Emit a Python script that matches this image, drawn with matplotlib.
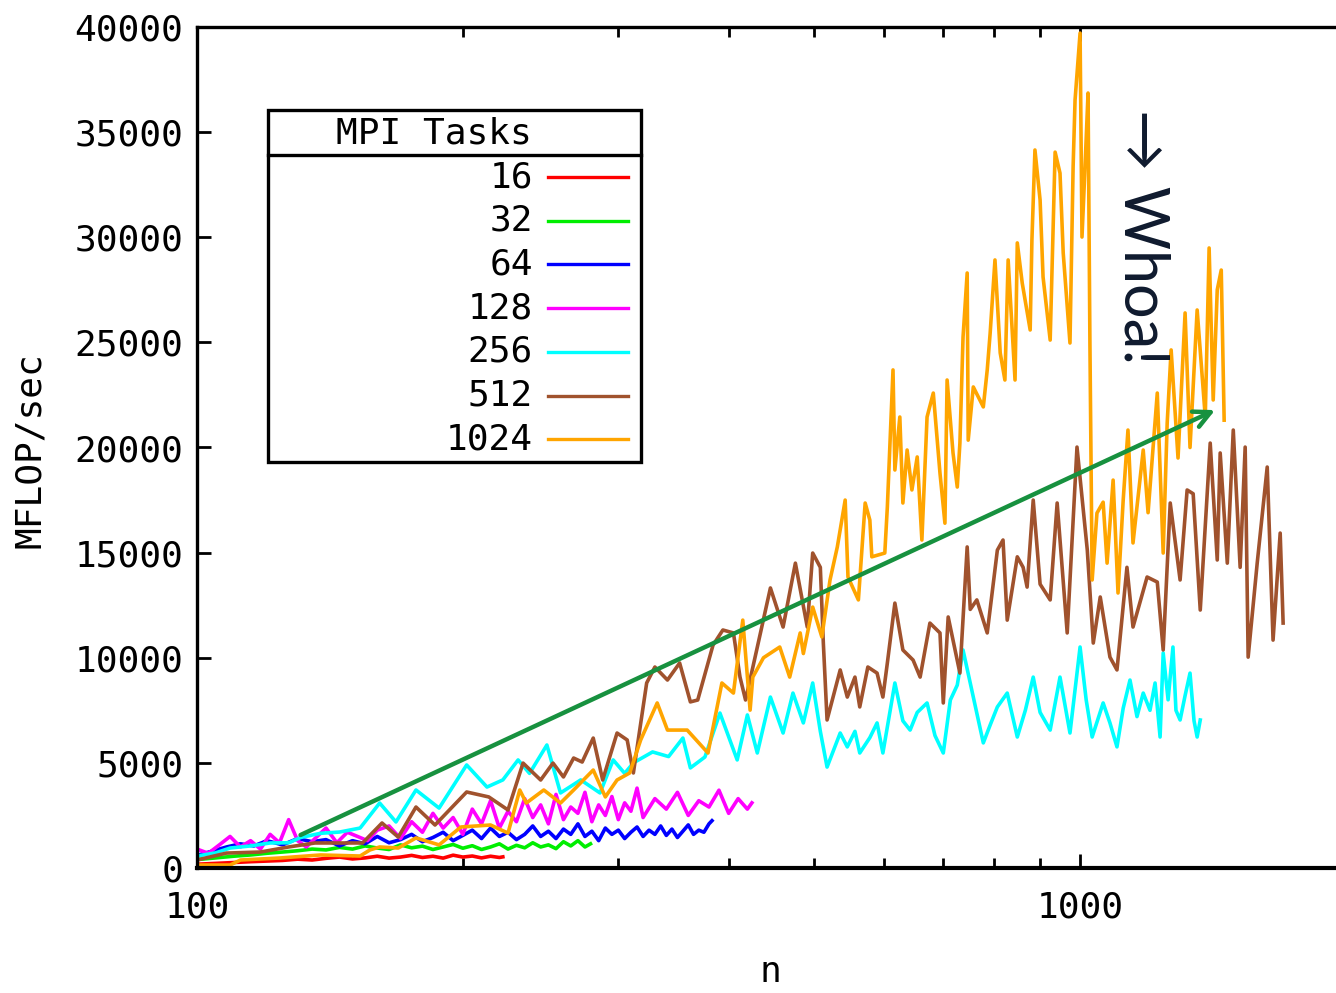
import matplotlib
matplotlib.use("Agg")
import matplotlib.pyplot as plt
from matplotlib.lines import Line2D
from matplotlib.patches import Rectangle
from matplotlib.ticker import FixedLocator, NullFormatter

# -----------------------------
# Data (n vs MFLOP/sec)
# -----------------------------
n_16 = [100, 105, 110, 115, 120, 125, 130, 135, 140, 145, 150, 155, 160, 165, 170,
        175, 180, 185, 190, 195, 200, 205, 210, 215, 220, 222]
mf_16 = [180, 220, 260, 300, 330, 360, 420, 380, 460, 520, 430, 480, 560, 470, 520,
         600, 500, 560, 470, 610, 520, 570, 480, 560, 500, 530]

n_32 = [100, 105, 110, 115, 120, 125, 130, 135, 140, 145, 150, 155, 160, 165, 170,
        175, 180, 185, 190, 195, 200, 205, 210, 215, 220, 225, 230, 235, 240, 245,
        250, 255, 260, 265, 270, 275, 279]
mf_32 = [400, 480, 560, 620, 700, 760, 820, 900, 860, 980, 900, 1050, 950, 880, 1100,
         960, 1040, 880, 1000, 1120, 940, 1060, 880, 1000, 1150, 900, 1080, 960, 1200, 1000,
         1100, 920, 1250, 1050, 1300, 1000, 1150]

n_64 = [100, 104, 108, 112, 116, 120, 125, 130, 135, 140, 145, 150, 155, 160, 165,
        170, 175, 180, 185, 190, 195, 200, 205, 210, 215, 220, 225, 230, 235, 240,
        245, 250, 255, 260, 265, 270, 275, 280, 285, 290, 295, 300, 305, 310, 315,
        320, 325, 330, 335, 340, 345, 350, 355, 360, 365, 370, 375, 380, 383]
mf_64 = [600, 800, 1000, 1150, 1050, 1300, 1100, 1400, 1250, 1350, 1050, 1300, 1150, 1500, 1200,
         1350, 1600, 1250, 1450, 1700, 1300, 1550, 1800, 1400, 1900, 1500, 1700, 1350, 1600, 2000,
         1500, 1750, 1400, 1850, 1600, 2100, 1500, 1750, 1300, 1900, 1600, 1800, 1400, 1700, 1950,
         1500, 1800, 1600, 2000, 1550, 1850, 1450, 1750, 2050, 1600, 1800, 1700, 2100, 2250]

n_128 = [100, 103, 106, 109, 112, 115, 118, 121, 124, 127, 130, 133, 136, 140, 144,
         148, 152, 156, 160, 165, 170, 175, 180, 185, 190, 195, 200, 205, 210, 215,
         220, 225, 230, 235, 240, 245, 250, 255, 260, 265, 270, 275, 280, 285, 290,
         295, 300, 305, 310, 315, 320, 330, 340, 350, 360, 370, 380, 390, 400, 410,
         420, 425]
mf_128 = [900, 700, 1100, 1500, 1000, 1300, 900, 1600, 1200, 2300, 1300, 1000, 1400, 1900, 1200,
          1700, 1500, 1300, 1800, 2000, 1400, 2200, 1700, 2600, 1900, 2400, 1600, 2800, 2100, 3200,
          1900, 2700, 2200, 3300, 2400, 3000, 2100, 3500, 2300, 2900, 2600, 3600, 2200, 3000, 2500,
          3400, 2300, 3100, 2700, 3800, 2400, 3300, 2800, 3600, 2500, 3200, 2900, 3700, 2600, 3300,
          2800, 3100]

n_256 = [100, 105, 109, 115, 121, 127, 131, 138, 145, 153, 161, 168, 177, 188, 202,
         213, 222, 231, 238, 249, 258, 272, 286, 296, 305, 312, 328, 342, 355, 362,
         376, 391, 409, 420, 431, 446, 461, 473, 486, 498, 508, 517, 535, 545, 556,
         563, 578, 589, 598, 617, 630, 642, 654, 671, 685, 700, 713, 726, 737, 757,
         777, 791, 806, 827, 849, 867, 885, 901, 925, 949, 974, 1000, 1016, 1032, 1062,
         1081, 1101, 1119, 1139, 1160, 1179, 1200, 1216, 1232, 1242, 1258, 1274, 1284, 1298, 1315,
         1332, 1346, 1357, 1368]
mf_256 = [570, 720, 950, 1050, 1190, 1200, 1450, 1650, 1710, 1900, 3090, 2190, 3710, 2850, 4900,
          3850, 4190, 5140, 4500, 5850, 3570, 4190, 3570, 5140, 4500, 5000, 5520, 5300, 6180, 4760,
          5280, 7370, 5140, 7280, 5470, 8130, 6420, 8320, 6900, 8800, 6500, 4800, 6420, 5760, 6500,
          5470, 6200, 6900, 5470, 8800, 7000, 6560, 7400, 7850, 6300, 5470, 7990, 8700, 10370, 8130,
          5950, 6800, 7660, 8320, 6230, 7500, 9080, 7400, 6560, 9080, 6420, 10510, 8000, 6230, 7850,
          6900, 5760, 7600, 8940, 7200, 8320, 7500, 8800, 6230, 10225, 8000, 10510, 7500, 7040, 8200,
          9270, 7000, 6230, 7040]

n_512 = [100, 108, 118, 127, 136, 147, 154, 162, 169, 177, 186, 202, 214, 225, 234,
         245, 253, 260, 267, 273, 281, 288, 299, 307, 312, 323, 330, 341, 352, 362,
         369, 384, 394, 405, 412, 418, 431, 446, 461, 476, 491, 498, 508, 512, 517,
         535, 545, 556, 563, 575, 589, 598, 605, 617, 630, 647, 659, 676, 694, 700,
         709, 731, 745, 751, 764, 785, 806, 818, 827, 849, 862, 871, 885, 901, 925,
         942, 967, 992, 1019, 1035, 1054, 1081, 1101, 1130, 1148, 1191, 1223, 1242, 1265, 1298,
         1322, 1343, 1368, 1404, 1430, 1441, 1468, 1491, 1518, 1538, 1550, 1587, 1629, 1654, 1685,
         1698]
mf_512 = [380, 710, 760, 1000, 1190, 1190, 1190, 2140, 1470, 2900, 2045, 3615, 3380, 2760, 4990,
          4185, 4990, 4330, 5230, 5040, 6180, 4185, 6420, 6090, 4520, 8800, 9560, 8940, 9750, 7900,
          7990, 10600, 11320, 11180, 9080, 7990, 10500, 13320, 11460, 14500, 11460, 14980, 14300, 10700, 7040,
          9420, 8130, 9080, 7660, 9560, 9270, 8130, 9750, 12600, 10370, 9890, 9080, 11650, 11180, 7850,
          11940, 9270, 15270, 12300, 12750, 11180, 15120, 15600, 11790, 14800, 14300, 13360, 17500, 13500, 12750,
          17360, 11180, 20020, 15120, 10700, 12890, 10030, 9420, 14300, 11460, 13840, 13600, 10370, 17360, 13700,
          17980, 17800, 12270, 20210, 14650, 19740, 14500, 20830, 14300, 20020, 10030, 14500, 19070, 10840, 15930,
          11650]

n_1024 = [100, 109, 112, 124, 138, 153, 157, 161, 169, 177, 188, 199, 215, 225, 232,
          236, 247, 258, 267, 281, 290, 299, 309, 318, 332, 341, 359, 379, 393, 405,
          415, 423, 426, 438, 457, 469, 482, 486, 498, 510, 521, 531, 542, 546, 561,
          571, 578, 581, 601, 605, 614, 617, 625, 630, 637, 645, 654, 662, 671, 682,
          694, 703, 707, 718, 726, 731, 737, 745, 747, 757, 777, 785, 791, 801, 812,
          822, 829, 844, 849, 860, 878, 882, 889, 901, 908, 925, 937, 949, 957, 974,
          982, 987, 1000, 1005, 1013, 1021, 1026, 1032, 1045, 1062, 1073, 1090, 1104, 1119, 1133,
          1148, 1179, 1194, 1223, 1242, 1255, 1268, 1291, 1315, 1332, 1357, 1386, 1400, 1415, 1430,
          1445, 1456]
mf_1024 = [140, 140, 380, 475, 620, 570, 860, 1000, 950, 1430, 1100, 1950, 2045, 1660, 3710,
           3090, 3710, 3090, 3710, 4660, 3380, 4185, 4520, 6090, 7850, 6560, 6560, 5470, 8800, 8320,
           11790, 7510, 9080, 10000, 10510, 9080, 11180, 10200, 12410, 10990, 13700, 15270, 17500, 13840, 12750,
           17360, 16550, 14800, 14980, 17170, 23690, 18930, 21450, 17360, 19880, 17980, 19550, 15600, 21450, 22590,
           18780, 16400, 23210, 19740, 18120, 20210, 25250, 28300, 20350, 22880, 21930, 23690, 25440, 28920, 24500,
           23210, 28920, 23210, 29730, 27820, 25590, 29870, 34150, 31770, 28110, 25110, 34050, 33050, 29250, 24970,
           33340, 36530, 39710, 30010, 33340, 36860, 24970, 13700, 16880, 17400, 14500, 18450, 13080, 17500, 20830,
           15460, 19880, 16900, 22590, 14980, 21160, 24640, 19500, 26400, 20000, 26540, 21450, 29490, 22260, 27500,
           28440, 21300]

series_n = [n_16, n_32, n_64, n_128, n_256, n_512, n_1024]
series_mf = [mf_16, mf_32, mf_64, mf_128, mf_256, mf_512, mf_1024]
labels = ['16', '32', '64', '128', '256', '512', '1024']
colors = ['#ff0000', '#00ee00', '#0000ff', '#ff00ff', '#00ffff', '#a0522d', '#ffa500']

y_ticks = [0, 5000, 10000, 15000, 20000, 25000, 30000, 35000, 40000]

# -----------------------------
# Figure
# -----------------------------
W, H = 1336, 993
plt.rcParams['font.family'] = 'DejaVu Sans Mono'
fig = plt.figure(figsize=(W / 100, H / 100), dpi=100)
ax = fig.add_axes([197 / W, (H - 868) / H, (W - 197) / W, (868 - 27) / H])

for xs, ys, c in zip(series_n, series_mf, colors):
    ax.plot(xs, ys, color=c, lw=2.6)

ax.set_xscale('log')
ax.set_xlim(100, 1949)
ax.set_ylim(0, 40000)

ax.xaxis.set_major_locator(FixedLocator([100, 1000]))
ax.xaxis.set_minor_locator(FixedLocator([200, 300, 400, 500, 600, 700, 800, 900]))
ax.xaxis.set_minor_formatter(NullFormatter())
ax.set_xticklabels(['100', '1000'])
ax.set_yticks(y_ticks)
ax.set_yticklabels([str(v) for v in y_ticks])

ax.tick_params(axis='both', which='major', direction='in', length=10, width=2,
               labelsize=26, top=True, right=False)
ax.tick_params(axis='x', which='minor', direction='in', length=7, width=2, top=True)
ax.tick_params(axis='x', which='major', pad=16)
ax.tick_params(axis='y', which='major', pad=10)

for side in ['left', 'top', 'bottom']:
    ax.spines[side].set_linewidth(2.4)
ax.spines['bottom'].set_linewidth(3)
ax.spines['right'].set_visible(False)

fig.text(30 / W, 1 - 450 / H, 'MFLOP/sec', rotation=90, ha='center', va='center', fontsize=26)
fig.text(770 / W, 1 - 972 / H, 'n', ha='center', va='center', fontsize=26)

# -----------------------------
# Legend (gnuplot style box)
# -----------------------------
def fx(px):
    return px / W

def fy(py):
    return 1 - py / H

fig.add_artist(Rectangle((fx(268), fy(462)), fx(641) - fx(268), fy(110) - fy(462),
                         transform=fig.transFigure, fill=False, ec='black', lw=2.4))
fig.add_artist(Line2D([fx(268), fx(641)], [fy(155), fy(155)], transform=fig.transFigure,
                      color='black', lw=2.4))
fig.text(fx(434), fy(133), 'MPI Tasks', ha='center', va='center', fontsize=26)
for i, (lab, c) in enumerate(zip(labels, colors)):
    yy = 177 + i * 43.7
    fig.text(fx(533), fy(yy), lab, ha='right', va='center', fontsize=26)
    fig.add_artist(Line2D([fx(548), fx(628)], [fy(yy), fy(yy)], transform=fig.transFigure,
                          color=c, lw=2.4))

# -----------------------------
# Annotations
# -----------------------------
ax.annotate('', xy=(1422, 21780), xytext=(131, 1570),
            arrowprops=dict(arrowstyle='->', color='#17913f', lw=3.2,
                            mutation_scale=30, shrinkA=0, shrinkB=0))
ax.text(1176, 30000, '\u2192 Whoa!', rotation=-90, ha='center', va='center',
        fontsize=44, color='#0f1a2e', family=['Lato', 'DejaVu Sans'])

fig.savefig('out.png', dpi=100)
